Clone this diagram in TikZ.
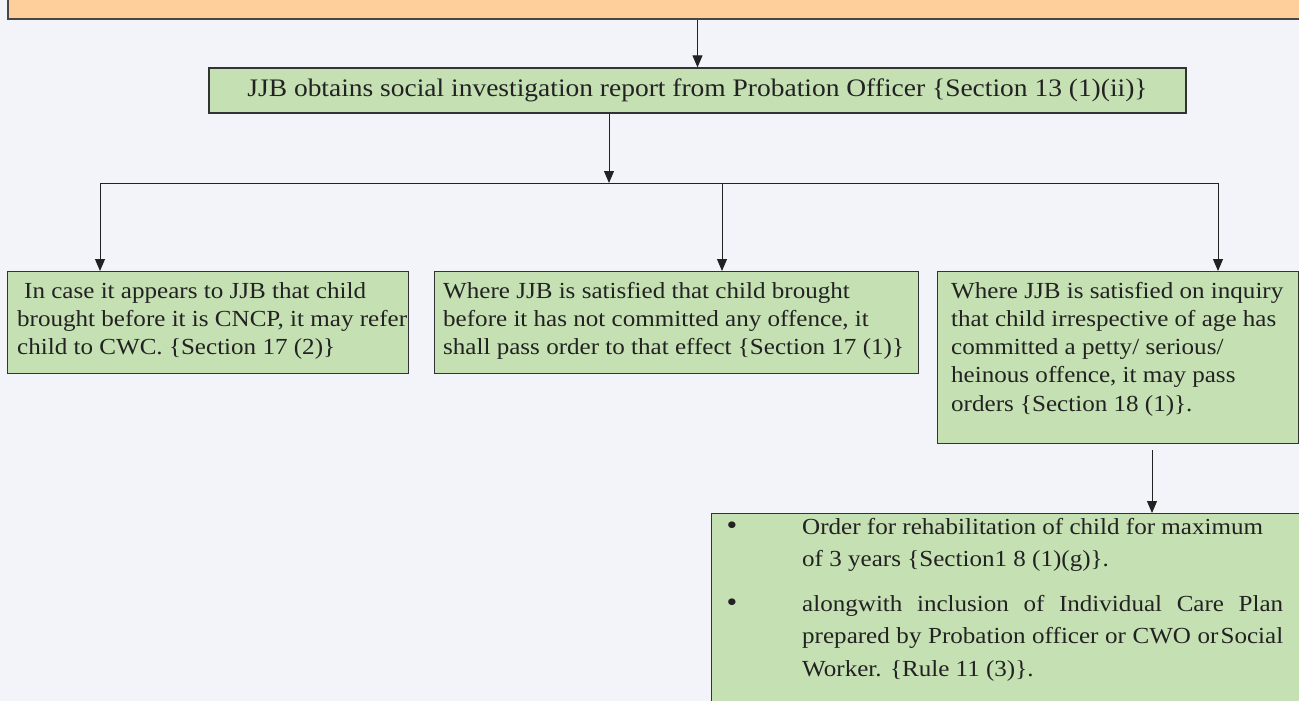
\documentclass[tikz,border=0pt]{standalone}
\usepackage{fontspec}
\setmainfont{Liberation Serif}[FakeStretch=1.09]
\usetikzlibrary{arrows.meta}
\definecolor{bg}{HTML}{F3F4F9}
\definecolor{boxgreen}{HTML}{C5E0B3}
\definecolor{boxorange}{HTML}{FFCF9B}
\definecolor{edge}{HTML}{333333}
\definecolor{ink}{HTML}{222222}
\begin{document}
\begin{tikzpicture}[x=1pt,y=-1pt,
  box/.style={draw=edge, line width=1.3pt, fill=boxgreen, inner sep=0pt, anchor=north west},
  txt/.style={inner sep=0pt, anchor=north west, align=left, text=ink, font={\fontsize{23}{28.3}\selectfont}},
  btxt/.style={inner sep=0pt, anchor=north west, align=left, text=ink, font={\fontsize{23}{32.5}\selectfont}},
  bul/.style={anchor=base, inner sep=0pt, text=ink, font={\fontsize{28}{28.3}\selectfont}},
  conn/.style={draw=ink, line width=1pt},
  arr/.style={conn, -{Triangle[length=12pt,width=10pt]}}]
\useasboundingbox (0,0) rectangle (1299,701);
\fill[bg] (0,0) rectangle (1299,701);
\clip (0,0) rectangle (1299,701);

% boxes
\node[box, fill=boxorange, draw=edge!90, line width=2pt, minimum width=1320pt, minimum height=50pt] (top) at (7,-32) {};
\node[box, minimum width=977pt, minimum height=45pt, anchor=center, text=ink, font={\fontsize{25.2}{28.3}\selectfont}] (jjb) at (697.5,90.5)
  {JJB obtains social investigation report from Probation Officer \{Section 13 (1)(ii)\}};
\node[box, minimum width=401pt, minimum height=102pt] (b1) at (7,271) {};
\node[box, minimum width=484pt, minimum height=102pt] (b2) at (434,271) {};
\node[box, minimum width=361pt, minimum height=172pt] (b3) at (937,271) {};
\node[box, minimum width=620pt, minimum height=220pt] (b4) at (711,513) {};

% texts
\node[txt] (t1) at (17,278) {\strut\hspace{7pt}In case it appears to JJB that child\\brought before it is CNCP, it may refer\\child to CWC. \{Section 17 (2)\}};
\node[txt] (t2) at (443,278) {\strut Where JJB is satisfied that child brought\\before it has not committed any offence, it\\shall pass order to that effect \{Section 17 (1)\}};
\node[txt] (t3) at (951,278) {\strut Where JJB is satisfied on inquiry\\that child irrespective of age has\\committed a petty/ serious/\\heinous offence, it may pass\\orders \{Section 18 (1)\}.};

\node[bul] (bul1) at (732,534) {•};
\node[bul] (bul2) at (732,611) {•};
\node[btxt] (i1) at (802,511.25) {\strut Order for rehabilitation of child for maximum\\of 3 years \{Section1 8 (1)(g)\}.};
\node[btxt] (i2) at (802,588.25) {\strut\makebox[481pt][s]{alongwith inclusion of Individual Care Plan}\\\makebox[481pt][s]{prepared by Probation officer or CWO or\hspace{2pt}Social}\\Worker. \{Rule 11 (3)\}.};

% connectors
\coordinate (hub) at (609,183);
\coordinate (hl) at (100,183);
\coordinate (hr) at (1218,183);
\coordinate (hm) at (722,183);
\coordinate (a4) at (1152,450);

\draw[arr] (jjb.north |- top.south) -- (jjb.north);
\draw[arr] (jjb.south -| hub) -- (hub);
\draw[conn] (hl) -- (hr);
\draw[arr] (hl) -- (hl |- b1.north);
\draw[arr] (hm) -- (hm |- b2.north);
\draw[arr] (hr) -- (hr |- b3.north);
\draw[arr] (a4) -- (a4 |- b4.north);
\end{tikzpicture}
\end{document}
